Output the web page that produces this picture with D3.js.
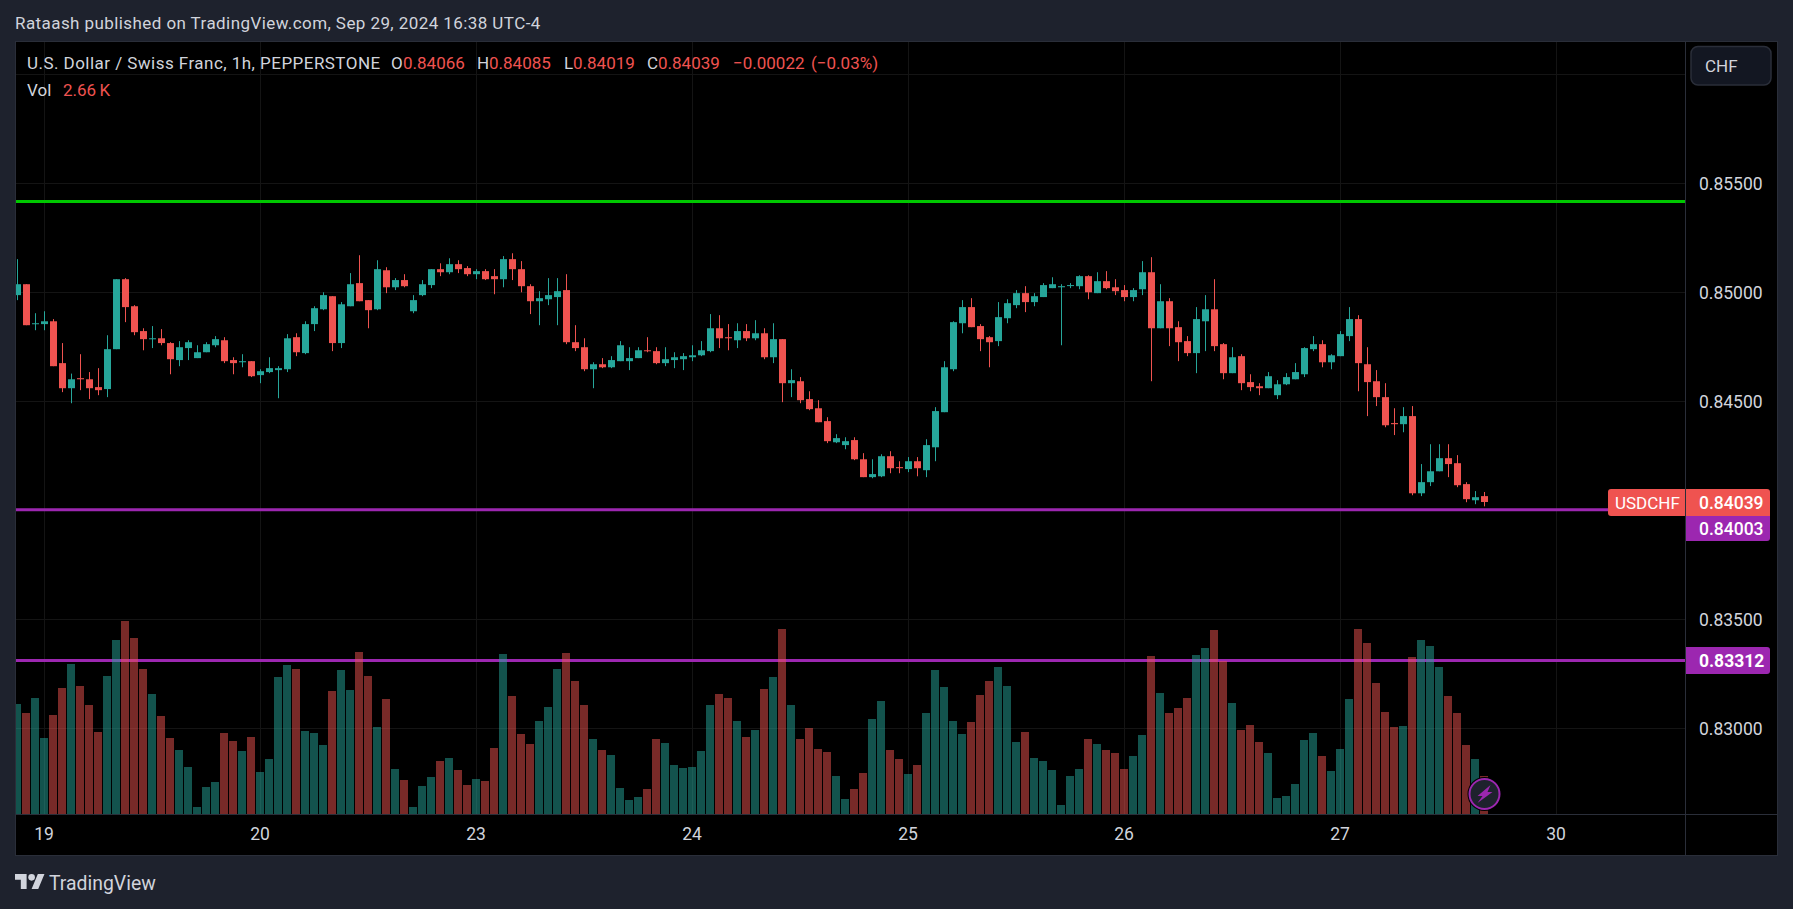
<!DOCTYPE html>
<html>
<head>
<meta charset="utf-8">
<title>USDCHF 1h</title>
<script src="https://cdn.jsdelivr.net/npm/d3@7"></script>
<style>
  html, body { margin: 0; padding: 0; background: #1e222d; overflow: hidden; }
  svg { display: block; }
  text { font-family: Roboto, sans-serif; }
</style>
</head>
<body>
<svg id="chart" width="1793" height="909"></svg>
<script>
// prices are in 1/100000 (0.84039 -> 84039), volume in thousands
const opens = [84988,85038,84855,84855,84868,84676,84561,84607,84602,84566,84557,84740,85061,84937,84823,84786,84790,84768,84690,84745,
  84699,84726,84758,84781,84690,84680,84685,84621,84635,84644,84648,84795,84722,84855,84923,84983,84768,84937,85043,84965,
  84923,85102,85024,85057,84914,84988,85034,85107,85093,85130,85112,85084,85098,85075,85061,85153,85107,85029,84960,84969,
  84979,85011,84772,84749,84648,84671,84657,84685,84685,84699,84735,84731,84676,84690,84694,84703,84712,84731,84836,84795,
  84781,84823,84790,84813,84703,84786,84584,84593,84511,84469,84410,84313,84300,84323,84235,84153,84157,84249,84199,84190,
  84226,84185,84290,84451,84648,84859,84933,84846,84795,84777,84882,84942,84997,84956,84979,85020,85024,85031,85029,85075,
  84997,85052,85024,85011,84979,85015,85093,84836,84960,84841,84777,84722,84868,84923,84763,84630,84708,84589,84570,84561,
  84529,84579,84602,84625,84740,84763,84680,84708,84800,84878,84671,84593,84520,84401,84396,84433,84079,84130,84180,84240,
  84217,84121,84047,84066];
const highs = [85153,85038,84905,84914,84878,84768,84628,84717,84635,84653,84804,85061,85066,84942,84836,84846,84832,84772,84777,84781,
  84758,84772,84800,84795,84703,84717,84685,84648,84703,84662,84809,84813,84868,84937,85001,84983,84956,85089,85171,84965,
  85148,85116,85066,85084,84988,85057,85107,85134,85157,85148,85121,85107,85107,85107,85167,85180,85144,85038,85006,85066,
  85066,85084,84850,84790,84680,84699,84708,84777,84749,84749,84795,84749,84749,84726,84722,84758,84777,84901,84896,84855,
  84859,84855,84873,84836,84859,84786,84648,84612,84547,84506,84428,84350,84336,84336,84263,84235,84258,84272,84226,84245,
  84245,84327,84474,84685,84868,84965,84974,84855,84800,84956,84969,85011,85029,84997,85043,85070,85038,85043,85079,85079,
  85093,85098,85061,85034,85020,85144,85162,85038,84974,84868,84800,84933,84988,85061,84768,84749,84717,84625,84584,84635,
  84598,84630,84676,84749,84800,84781,84717,84823,84933,84896,84749,84644,84584,84469,84474,84479,84213,84304,84304,84304,
  84254,84130,84089,84085];
const lows = [84965,84850,84827,84827,84662,84543,84492,84552,84511,84529,84520,84740,84864,84804,84735,84745,84758,84625,84662,84690,
  84699,84726,84749,84676,84625,84657,84612,84584,84630,84515,84635,84708,84717,84823,84919,84731,84745,84937,84960,84836,
  84919,84997,85011,85024,84905,84983,85020,85075,85084,85089,85075,85061,85057,84992,85024,85057,85001,84901,84850,84942,
  84850,84763,84731,84639,84561,84653,84653,84685,84644,84699,84726,84671,84662,84653,84644,84685,84708,84726,84745,84735,
  84745,84777,84781,84694,84676,84497,84520,84492,84460,84405,84309,84309,84281,84231,84153,84148,84153,84171,84171,84176,
  84157,84153,84226,84451,84639,84813,84841,84731,84657,84754,84859,84928,84910,84937,84979,85020,84758,85020,85015,84969,
  84997,85015,84988,84960,84960,84988,84593,84836,84754,84685,84708,84630,84731,84731,84602,84630,84552,84547,84529,84561,
  84511,84575,84602,84612,84731,84657,84648,84708,84777,84547,84433,84479,84382,84346,84359,84070,84066,84112,84180,84153,
  84107,84038,84029,84019];
const closes = [85038,84850,84859,84868,84662,84561,84602,84602,84561,84552,84740,85061,84933,84818,84786,84790,84768,84694,84749,84772,
  84726,84763,84786,84685,84676,84685,84616,84639,84653,84653,84790,84726,84855,84928,84988,84768,84946,85038,84960,84919,
  85107,85024,85057,85029,84965,85038,85107,85093,85130,85107,85084,85098,85061,85061,85153,85107,85029,84960,84974,84988,
  85006,84772,84745,84648,84671,84657,84690,84758,84699,84735,84731,84676,84694,84703,84708,84712,84735,84836,84790,84790,
  84823,84790,84813,84703,84786,84584,84598,84506,84465,84405,84318,84332,84318,84235,84153,84167,84249,84194,84194,84226,
  84194,84300,84456,84657,84864,84933,84841,84786,84772,84887,84951,84997,84956,84983,85034,85038,85029,85034,85075,85001,
  85052,85020,85006,84979,85011,85093,84836,84960,84836,84772,84722,84878,84923,84754,84630,84703,84584,84566,84561,84616,
  84579,84612,84635,84745,84763,84680,84712,84809,84878,84676,84589,84520,84391,84396,84433,84079,84130,84180,84240,84213,
  84116,84052,84061,84039];
const volumes = [7.70,7.07,8.12,5.32,6.93,8.82,10.50,8.96,7.63,5.74,9.66,12.18,13.51,12.32,10.15,8.40,6.86,5.32,4.48,3.29,
  0.49,1.89,2.24,5.67,5.11,4.41,5.39,2.94,3.85,9.59,10.43,10.15,5.81,5.67,4.83,8.61,10.08,8.68,11.34,9.66,
  6.09,8.05,3.15,2.38,0.49,1.96,2.59,3.71,3.92,3.08,2.03,2.45,2.31,4.62,11.20,8.26,5.60,4.90,6.51,7.49,
  10.15,11.27,9.31,7.63,5.25,4.48,4.13,1.82,0.98,1.19,1.75,5.25,4.97,3.43,3.22,3.29,4.41,7.63,8.40,8.12,
  6.51,5.39,5.88,8.75,9.59,12.95,7.63,5.25,6.02,4.55,4.34,2.66,1.05,1.75,2.87,6.65,7.91,4.48,3.85,2.80,
  3.43,7.07,10.08,8.89,6.51,5.60,6.44,8.33,9.31,10.29,8.96,5.04,5.74,3.92,3.71,3.08,0.63,2.66,3.15,5.25,
  4.90,4.48,4.27,3.15,4.06,5.53,11.06,8.47,7.07,7.42,8.12,11.13,11.62,12.88,10.71,7.77,5.88,6.23,5.04,4.27,
  1.12,1.26,2.10,5.18,5.67,4.06,3.01,4.55,8.05,12.95,11.97,9.17,7.14,6.09,6.16,10.99,12.18,11.76,10.29,8.26,
  7.07,4.83,3.85,2.66];

const gridPrices = [0.86, 0.855, 0.85, 0.845, 0.84, 0.835, 0.83];
const axisPrices = [0.855, 0.85, 0.845, 0.835, 0.83];
const dayBars = [3, 27, 51, 75, 99, 123, 147, 171];
const dayLabels = ["19", "20", "23", "24", "25", "26", "27", "30"];
const levelGreen = 0.85417;
const levelPurple = [0.84003, 0.83312];
const lastPrice = 0.84039;

const UP = "#26a69a", DOWN = "#ef5350", PURPLE = "#9c27b0", GREEN = "#00c800";
const BG = "#1e222d", LINE = "#2a2e39", GRID = "#141414", TEXT = "#d1d4dc";

const paneL = 15, paneR = 1685, paneT = 41, axisY = 814, outerR = 1778, outerB = 856;

const svg = d3.select("#chart");

const x = d3.scaleLinear().domain([0, 163]).range([17.5, 1484.5]);
const y = d3.scaleLinear().domain([0.85, 0.83]).range([292.5, 728.5]);
const yVol = d3.scaleLinear().domain([0, 14]).range([axisY, axisY - 200]);

const bars = d3.range(opens.length).map(i => ({
  i,
  o: opens[i] / 1e5, h: highs[i] / 1e5, l: lows[i] / 1e5, c: closes[i] / 1e5,
  v: volumes[i],
  col: closes[i] >= opens[i] ? UP : DOWN
}));

svg.append("defs").append("clipPath").attr("id", "pane")
  .append("rect").attr("x", paneL + 1).attr("y", paneT + 1)
  .attr("width", paneR - paneL - 1).attr("height", axisY - paneT - 1);

// panel
svg.append("rect").attr("x", paneL + 0.5).attr("y", paneT + 0.5)
  .attr("width", outerR - paneL - 1).attr("height", outerB - paneT - 1)
  .attr("fill", "#000").attr("stroke", LINE);

// grid
const pane = svg.append("g").attr("clip-path", "url(#pane)");
pane.append("g").selectAll("line").data(gridPrices).join("line")
  .attr("x1", paneL).attr("x2", paneR)
  .attr("y1", d => y(d)).attr("y2", d => y(d))
  .attr("stroke", GRID);
pane.append("g").selectAll("line").data(dayBars).join("line")
  .attr("x1", d => x(d)).attr("x2", d => x(d))
  .attr("y1", paneT).attr("y2", axisY)
  .attr("stroke", GRID);

// levels go under the volume so the bars tint them
pane.append("line").attr("x1", paneL).attr("x2", paneR)
  .attr("y1", y(levelGreen)).attr("y2", y(levelGreen))
  .attr("stroke", GREEN).attr("stroke-width", 3);
pane.selectAll(".lvl").data(levelPurple).join("line").attr("class", "lvl")
  .attr("x1", paneL).attr("x2", paneR)
  .attr("y1", d => y(d)).attr("y2", d => y(d))
  .attr("stroke", PURPLE).attr("stroke-width", 3);

// volume
pane.append("g").selectAll("rect").data(bars).join("rect")
  .attr("x", d => x(d.i) - 4.5)
  .attr("width", 8)
  .attr("y", d => yVol(d.v))
  .attr("height", d => axisY - yVol(d.v))
  .attr("fill", d => d.col)
  .attr("fill-opacity", 0.5);

// candles
const candle = pane.append("g").selectAll("g").data(bars).join("g");
candle.append("line")
  .attr("x1", d => x(d.i)).attr("x2", d => x(d.i))
  .attr("y1", d => y(d.h)).attr("y2", d => y(d.l))
  .attr("stroke", d => d.col);
candle.append("rect")
  .attr("x", d => x(d.i) - 3.5)
  .attr("width", 7)
  .attr("y", d => y(Math.max(d.o, d.c)))
  .attr("height", d => Math.max(1, Math.abs(y(d.o) - y(d.c))))
  .attr("fill", d => d.col);

// axis frame
svg.append("line").attr("x1", paneR + 0.5).attr("x2", paneR + 0.5).attr("y1", paneT).attr("y2", outerB).attr("stroke", LINE);
svg.append("line").attr("x1", paneL).attr("x2", outerR).attr("y1", axisY + 0.5).attr("y2", axisY + 0.5).attr("stroke", LINE);

// price axis
const yAxis = svg.append("g").attr("transform", `translate(${paneR},0)`)
  .call(d3.axisRight(y).tickValues(axisPrices).tickFormat(d3.format(".5f")).tickSize(0).tickPadding(14));
yAxis.select(".domain").remove();
yAxis.selectAll("text").attr("fill", TEXT).attr("font-size", 17.5).style("font-family", "Roboto, sans-serif");

// time axis
const xAxis = svg.append("g").attr("transform", `translate(-1,${axisY})`)
  .call(d3.axisBottom(x).tickValues(dayBars).tickFormat((d, i) => dayLabels[i]).tickSize(0).tickPadding(14));
xAxis.select(".domain").remove();
xAxis.selectAll("text").attr("fill", TEXT).attr("font-size", 17.5).style("font-family", "Roboto, sans-serif");

// tags
function tag(x0, y0, w, h, radii, fill) {
  const [tl, tr, br, bl] = radii;
  const p = d3.path();
  p.moveTo(x0 + tl, y0);
  p.lineTo(x0 + w - tr, y0);
  p.arcTo(x0 + w, y0, x0 + w, y0 + tr, tr);
  p.lineTo(x0 + w, y0 + h - br);
  p.arcTo(x0 + w, y0 + h, x0 + w - br, y0 + h, br);
  p.lineTo(x0 + bl, y0 + h);
  p.arcTo(x0, y0 + h, x0, y0 + h - bl, bl);
  p.lineTo(x0, y0 + tl);
  p.arcTo(x0, y0, x0 + tl, y0, tl);
  p.closePath();
  svg.append("path").attr("d", p.toString()).attr("fill", fill);
}
function tagText(tx, ty, s, weight, size) {
  svg.append("text").attr("x", tx).attr("y", ty).attr("dy", "0.35em")
    .attr("fill", "#fff").attr("font-size", size || 17.5).attr("font-weight", weight || 500).text(s);
}
tag(1686, 516, 84, 25, [0, 0, 3, 0], PURPLE);
tagText(1699, 529, d3.format(".5f")(levelPurple[0]));
tag(1608, 489, 77, 27, [3, 0, 0, 3], DOWN);
tagText(1615, 503, "USDCHF", 400, 17);
tag(1686, 489, 84, 27, [0, 3, 0, 0], DOWN);
tagText(1699, 503, d3.format(".5f")(lastPrice));
tag(1686, 647, 84, 27, [0, 3, 3, 0], PURPLE);
tagText(1699, 660.5, d3.format(".5f")(levelPurple[1]), 700);

// currency button
svg.append("rect").attr("x", 1691).attr("y", 46.5).attr("width", 80).attr("height", 38.5).attr("rx", 7)
  .attr("fill", "#131722").attr("stroke", LINE).attr("stroke-width", 1.5);
svg.append("text").attr("x", 1705).attr("y", 66).attr("dy", "0.35em")
  .attr("fill", TEXT).attr("font-size", 17).text("CHF");

// header
svg.append("text").attr("x", 15).attr("y", 23.5).attr("dy", "0.35em")
  .attr("fill", TEXT).attr("font-size", 17).attr("letter-spacing", 0.42)
  .text("Rataash published on TradingView.com, Sep 29, 2024 16:38 UTC-4");

// legend
const legend = [
  [27, "U.S. Dollar / Swiss Franc, 1h, PEPPERSTONE", TEXT, 0.46],
  [391, "O", TEXT, 0], [403, "0.84066", DOWN, 0],
  [477, "H", TEXT, 0], [489, "0.84085", DOWN, 0],
  [564, "L", TEXT, 0], [573, "0.84019", DOWN, 0],
  [647, "C", TEXT, 0], [658, "0.84039", DOWN, 0],
  [733, "\u22120.00022", DOWN, 0], [811, "(\u22120.03%)", DOWN, 0]
];
svg.append("g").selectAll("text").data(legend).join("text")
  .attr("x", d => d[0]).attr("y", 63.5).attr("dy", "0.35em")
  .attr("fill", d => d[2]).attr("font-size", 17).attr("letter-spacing", d => d[3]).text(d => d[1]);
svg.append("text").attr("x", 27).attr("y", 90).attr("dy", "0.35em")
  .attr("fill", TEXT).attr("font-size", 17).text("Vol");
svg.append("text").attr("x", 63).attr("y", 90).attr("dy", "0.35em")
  .attr("fill", DOWN).attr("font-size", 17).text("2.66\u2009K");

// lightning badge on last bar
const badge = svg.append("g").attr("transform", `translate(${x(163)},794)`);
badge.append("circle").attr("r", 15.5).attr("fill", BG).attr("stroke", "#000").attr("stroke-width", 3);
badge.append("circle").attr("r", 15).attr("fill", BG).attr("stroke", PURPLE).attr("stroke-width", 2);
badge.append("path").attr("d", "M6-9L-7 2h5l-5 7L8-2H3z").attr("fill", PURPLE);

// logo
const logo = svg.append("g").attr("transform", "translate(15,870.7) scale(0.83)").attr("fill", TEXT);
logo.append("path").attr("d", "M14 22H7V11H0V4h14v18zM28 22h-8l7.5-18h8L28 22z");
logo.append("circle").attr("cx", 20).attr("cy", 8).attr("r", 4);
svg.append("text").attr("x", 49).attr("y", 883).attr("dy", "0.35em")
  .attr("fill", TEXT).attr("font-size", 19.4).text("TradingView");
</script>
</body>
</html>
